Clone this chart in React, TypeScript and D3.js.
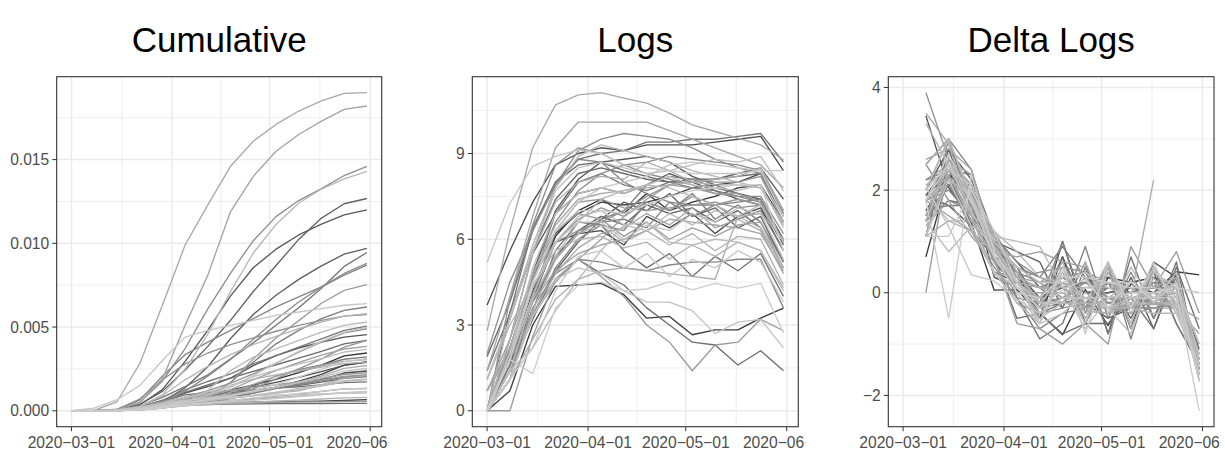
import React from "react";
import * as d3 from "d3";

// ---------------- data ----------------
const weeks = [
  "2020-03-01", "2020-03-08", "2020-03-15", "2020-03-22", "2020-03-29", "2020-04-05", "2020-04-12",
  "2020-04-19", "2020-04-26", "2020-05-03", "2020-05-10", "2020-05-17", "2020-05-24", "2020-05-31",
];

const states = [
  "Alabama", "Alaska", "Arizona", "Arkansas", "California", "Colorado", "Connecticut", "Delaware",
  "District of Columbia", "Florida", "Georgia", "Hawaii", "Idaho", "Illinois", "Indiana", "Iowa",
  "Kansas", "Kentucky", "Louisiana", "Maine", "Maryland", "Massachusetts", "Michigan", "Minnesota",
  "Mississippi", "Missouri", "Montana", "Nebraska", "Nevada", "New Hampshire", "New Jersey",
  "New Mexico", "New York", "North Carolina", "North Dakota", "Ohio", "Oklahoma", "Oregon",
  "Pennsylvania", "Rhode Island", "South Carolina", "South Dakota", "Tennessee", "Texas", "Utah",
  "Vermont", "Virginia", "Washington", "West Virginia", "Wisconsin", "Wyoming",
];

// cumulative cases per capita, one row per state, one value per week
const cumulative: number[][] = [
  [0, 0.000001, 0.000015, 0.000106, 0.00033, 0.000664, 0.000966, 0.001239, 0.001541, 0.001875, 0.002283, 0.002733, 0.003284, 0.00345],
  [0, 0.000001, 0.000029, 0.000134, 0.000245, 0.000363, 0.000442, 0.000478, 0.000515, 0.000534, 0.000558, 0.000581, 0.000616, 0.000666],
  [0, 0.000001, 0.000015, 0.000083, 0.000219, 0.000422, 0.000606, 0.00081, 0.001058, 0.001393, 0.001764, 0.002173, 0.002726, 0.002929],
  [0, 0.000001, 0.000018, 0.000138, 0.000302, 0.000482, 0.00063, 0.000899, 0.001142, 0.001411, 0.00161, 0.001854, 0.002255, 0.002376],
  [0.000001, 0.000008, 0.000045, 0.000183, 0.000388, 0.000639, 0.000865, 0.001142, 0.001419, 0.001696, 0.002002, 0.00234, 0.002714, 0.0029],
  [0, 0.000003, 0.00005, 0.00023, 0.0006, 0.00105, 0.00145, 0.00195, 0.0027, 0.0033, 0.00375, 0.0041, 0.0044, 0.00455],
  [0, 0.000002, 0.000036, 0.000343, 0.001266, 0.00295, 0.00481, 0.00686, 0.00854, 0.00965, 0.0105, 0.01115, 0.0117, 0.012],
  [0, 0.000004, 0.00003, 0.000165, 0.000541, 0.001378, 0.002628, 0.004314, 0.00575, 0.0069, 0.00785, 0.00865, 0.00935, 0.0097],
  [0, 0.000003, 0.000072, 0.000386, 0.001159, 0.002433, 0.003847, 0.005403, 0.007122, 0.008678, 0.010234, 0.011508, 0.012362, 0.012675],
  [0, 0.000002, 0.000028, 0.000166, 0.000419, 0.000698, 0.000905, 0.001074, 0.001213, 0.001366, 0.00152, 0.001707, 0.001935, 0.002049],
  [0, 0.000003, 0.000028, 0.000182, 0.00058, 0.0011, 0.00155, 0.00195, 0.00235, 0.00275, 0.00315, 0.00355, 0.004, 0.0042],
  [0, 0.000001, 0.000022, 0.000092, 0.000233, 0.000319, 0.000376, 0.000402, 0.000416, 0.000424, 0.000431, 0.000435, 0.00044, 0.000442],
  [0, 0.000001, 0.000019, 0.00017, 0.00058, 0.000952, 0.001103, 0.001185, 0.00126, 0.001352, 0.001435, 0.001546, 0.001683, 0.001728],
  [0, 0.000003, 0.00005, 0.000285, 0.000807, 0.001445, 0.00215, 0.003102, 0.004054, 0.005106, 0.006158, 0.00732, 0.00862, 0.00945],
  [0, 0.000001, 0.000016, 0.00017, 0.00063, 0.00125, 0.00175, 0.0022, 0.0028, 0.0033, 0.0038, 0.0043, 0.0048, 0.00505],
  [0, 0.000002, 0.000017, 0.000081, 0.000237, 0.000494, 0.000841, 0.001694, 0.0029, 0.004, 0.0048, 0.0055, 0.006, 0.0062],
  [0, 0.000002, 0.00001, 0.000061, 0.0002, 0.000429, 0.000682, 0.000992, 0.001454, 0.002077, 0.002456, 0.002736, 0.003078, 0.003217],
  [0, 0.000001, 0.000011, 0.000056, 0.000178, 0.000343, 0.000524, 0.000725, 0.001056, 0.001327, 0.001549, 0.001795, 0.002017, 0.002107],
  [0, 0.000003, 0.000055, 0.000635, 0.00206, 0.00335, 0.0041, 0.0048, 0.0055, 0.0062, 0.0068, 0.0074, 0.0081, 0.0087],
  [0, 0.000001, 0.000028, 0.000119, 0.000269, 0.000404, 0.000514, 0.000614, 0.000737, 0.000872, 0.001007, 0.001156, 0.001305, 0.001333],
  [0, 0.000001, 0.000018, 0.00014, 0.000504, 0.00117, 0.002067, 0.00306, 0.004272, 0.00545, 0.0065, 0.0074, 0.0082, 0.0088],
  [0.000001, 0.000014, 0.000093, 0.000484, 0.001782, 0.003718, 0.006083, 0.008223, 0.010159, 0.011593, 0.012555, 0.013267, 0.01405, 0.0146],
  [0, 0.000005, 0.00008, 0.0007, 0.00185, 0.0028, 0.00345, 0.00395, 0.00435, 0.00475, 0.0051, 0.0054, 0.00565, 0.00575],
  [0, 0.000002, 0.000021, 0.000086, 0.000182, 0.000313, 0.000507, 0.000828, 0.00131, 0.0019, 0.0025, 0.0031, 0.0038, 0.0042],
  [0, 0.000001, 0.000021, 0.000143, 0.00042, 0.00082, 0.0012, 0.00165, 0.0022, 0.00285, 0.0035, 0.0041, 0.00465, 0.0049],
  [0, 0, 0.000009, 0.000098, 0.000339, 0.000606, 0.000803, 0.000982, 0.001179, 0.001397, 0.001638, 0.001836, 0.002054, 0.002152],
  [0, 0, 0.00002, 0.000145, 0.000332, 0.000435, 0.000486, 0.000505, 0.000515, 0.000518, 0.000526, 0.000536, 0.000558, 0.000572],
  [0, 0.000003, 0.000017, 0.000064, 0.000167, 0.000376, 0.000841, 0.001689, 0.003087, 0.004351, 0.005386, 0.006421, 0.007188, 0.007533],
  [0, 0.000004, 0.000044, 0.00022, 0.000543, 0.000806, 0.001022, 0.001218, 0.001394, 0.001555, 0.001731, 0.001927, 0.002166, 0.002273],
  [0.000001, 0.000006, 0.000039, 0.000138, 0.000318, 0.00056, 0.000857, 0.001257, 0.001854, 0.002395, 0.002884, 0.003326, 0.003689, 0.003851],
  [0, 0.000005, 0.00006, 0.0005, 0.0019, 0.0051, 0.0081, 0.0119, 0.014, 0.0155, 0.0165, 0.0173, 0.018, 0.0182],
  [0, 0.000001, 0.000015, 0.000073, 0.000202, 0.000437, 0.000723, 0.00111, 0.001582, 0.002055, 0.002405, 0.002691, 0.002951, 0.003056],
  [0, 0.00003, 0.00054, 0.0028, 0.0063, 0.0099, 0.0123, 0.0146, 0.0161, 0.0171, 0.0179, 0.0185, 0.01895, 0.019],
  [0, 0.000001, 0.000013, 0.000076, 0.000232, 0.000422, 0.000632, 0.000865, 0.001122, 0.001405, 0.001719, 0.002066, 0.002534, 0.002706],
  [0, 0.000001, 0.000016, 0.00008, 0.000212, 0.000388, 0.000583, 0.000759, 0.00092, 0.001064, 0.001196, 0.00155, 0.00195, 0.0021],
  [0, 0.000001, 0.000022, 0.000148, 0.000403, 0.000714, 0.000996, 0.001509, 0.001889, 0.002144, 0.002374, 0.002605, 0.002814, 0.002907],
  [0, 0.000001, 0.000009, 0.000059, 0.000184, 0.000352, 0.000476, 0.000578, 0.000691, 0.000792, 0.000885, 0.000986, 0.001088, 0.00113],
  [0, 0.000005, 0.000024, 0.000088, 0.000184, 0.00029, 0.000376, 0.000447, 0.000511, 0.000582, 0.00064, 0.000704, 0.000768, 0.0008],
  [0, 0.000002, 0.00003, 0.00025, 0.0009, 0.00185, 0.00265, 0.00335, 0.00395, 0.00445, 0.0049, 0.0053, 0.00565, 0.0058],
  [0, 0.000004, 0.00005, 0.000258, 0.000952, 0.002495, 0.004578, 0.007123, 0.009425, 0.01113, 0.012393, 0.013241, 0.01385, 0.0143],
  [0, 0.000001, 0.000012, 0.000083, 0.000257, 0.00047, 0.000628, 0.000757, 0.0009, 0.001074, 0.001267, 0.00148, 0.00174, 0.001857],
  [0, 0.000001, 0.000011, 0.000049, 0.000163, 0.000469, 0.001225, 0.0024, 0.0032, 0.0037, 0.0042, 0.0047, 0.0051, 0.0053],
  [0, 0.000001, 0.000023, 0.000168, 0.00046, 0.000818, 0.00111, 0.001505, 0.002038, 0.002433, 0.00279, 0.003114, 0.003509, 0.003669],
  [0, 0.000001, 0.00001, 0.000086, 0.000256, 0.000463, 0.000632, 0.000771, 0.000924, 0.001112, 0.001341, 0.001548, 0.0018, 0.001903],
  [0, 0.000002, 0.000025, 0.000139, 0.000369, 0.000598, 0.000769, 0.000939, 0.001147, 0.001401, 0.001681, 0.001991, 0.00237, 0.002524],
  [0, 0.000002, 0.000044, 0.000205, 0.000444, 0.00064, 0.000748, 0.000821, 0.000894, 0.000947, 0.000971, 0.001006, 0.001047, 0.001061],
  [0, 0.000001, 0.000011, 0.00008, 0.00026, 0.00056, 0.00093, 0.0014, 0.0021, 0.00285, 0.00355, 0.00415, 0.0047, 0.005],
  [0, 0.00016, 0.00066, 0.0015, 0.003, 0.0044, 0.0048, 0.0051, 0.0054, 0.0057, 0.0059, 0.0061, 0.0063, 0.0064],
  [0, 0.000001, 0.000006, 0.000043, 0.000166, 0.000317, 0.000429, 0.00053, 0.000622, 0.000723, 0.000846, 0.000958, 0.001082, 0.001137],
  [0, 0.000001, 0.000017, 0.000111, 0.0003, 0.000489, 0.00066, 0.000891, 0.001202, 0.001583, 0.002004, 0.002469, 0.002934, 0.003123],
  [0, 0.000001, 0.000005, 0.00007, 0.00021, 0.00037, 0.00049, 0.00061, 0.00077, 0.00089, 0.00104, 0.00116, 0.00131, 0.00134],
];

// log of weekly new cases
const logs: number[][] = [
  [0, 1.9, 4.2, 6.1, 7.0, 7.4, 6.9, 7.6, 7.0, 7.3, 7.5, 7.8, 7.9, 6.6],
  [0, 0.7, 3.0, 4.35, 4.4, 4.46, 4.06, 3.24, 3.3, 2.66, 2.83, 2.83, 3.24, 3.59],
  [0.7, 2.2, 4.6, 6.2, 6.9, 7.3, 7.2, 7.3, 7.5, 7.8, 7.9, 8.0, 8.3, 6.8],
  [0, 1.6, 3.9, 5.9, 6.2, 6.3, 5.8, 6.8, 6.4, 6.9, 6.2, 6.8, 7.1, 5.6],
  [3.7, 5.6, 7.3, 8.6, 9.0, 9.2, 9.1, 9.3, 9.3, 9.3, 9.4, 9.5, 9.6, 8.4],
  [0, 3.45, 5.5, 6.9, 7.6, 7.8, 7.6, 7.9, 8.3, 8.0, 7.7, 7.4, 7.2, 5.8],
  [0, 2.0, 4.8, 7.0, 8.1, 8.7, 8.8, 8.9, 8.7, 8.2, 7.9, 7.6, 7.4, 6.0],
  [0, 1.4, 3.2, 4.9, 5.9, 6.7, 7.3, 7.0, 7.6, 6.8, 7.1, 6.4, 6.8, 5.2],
  [0, 1.1, 3.9, 5.4, 6.3, 6.8, 6.5, 7.2, 6.9, 7.1, 6.6, 7.0, 6.4, 5.0],
  [1.9, 3.8, 6.3, 8.0, 8.6, 8.7, 8.4, 8.2, 8.0, 8.1, 8.1, 8.3, 8.5, 7.4],
  [1.1, 3.2, 5.6, 7.4, 8.3, 8.5, 8.3, 8.1, 8.0, 8.0, 8.1, 8.2, 8.3, 6.9],
  [0, 1.1, 3.4, 4.6, 5.3, 4.8, 4.4, 3.6, 3.0, 2.4, 2.3, 1.6, 2.1, 1.4],
  [0, 1.4, 3.5, 5.6, 6.6, 6.5, 5.6, 5.0, 5.5, 4.7, 5.4, 4.9, 5.5, 4.0],
  [1.4, 3.4, 6.4, 8.0, 8.8, 9.0, 9.1, 9.4, 9.4, 9.5, 9.5, 9.6, 9.7, 8.7],
  [0, 2.2, 4.6, 6.9, 8.0, 8.3, 7.9, 7.7, 8.0, 7.8, 7.7, 7.5, 7.3, 5.9],
  [0, 1.8, 3.9, 5.3, 6.2, 6.7, 7.0, 7.9, 8.2, 8.1, 7.8, 7.6, 7.3, 5.9],
  [0, 1.6, 3.3, 5.0, 6.0, 6.5, 6.3, 7.3, 7.0, 7.6, 6.7, 7.2, 6.6, 5.2],
  [0, 1.8, 3.8, 5.3, 6.3, 6.6, 6.7, 6.4, 7.3, 6.8, 7.2, 6.7, 7.0, 5.6],
  [0, 2.5, 5.5, 7.9, 8.8, 8.7, 8.0, 7.6, 7.3, 7.2, 7.2, 7.3, 7.4, 5.9],
  [0, 1.4, 3.6, 4.8, 5.3, 5.2, 5.0, 4.9, 5.1, 5.2, 5.2, 5.3, 5.3, 3.6],
  [0, 2.2, 4.6, 6.6, 7.7, 8.3, 8.6, 8.7, 8.9, 8.8, 8.7, 8.6, 8.4, 7.0],
  [2.0, 4.5, 6.3, 7.9, 9.1, 9.5, 9.7, 9.6, 9.5, 9.2, 8.8, 8.5, 8.3, 6.9],
  [0, 3.9, 6.5, 8.6, 9.2, 9.0, 8.6, 8.3, 8.1, 7.9, 7.6, 7.5, 7.5, 6.2],
  [0, 2.2, 4.7, 5.9, 6.3, 6.6, 7.0, 7.5, 7.9, 8.1, 8.0, 8.0, 8.2, 6.6],
  [0, 1.1, 4.1, 5.9, 6.7, 7.1, 6.8, 7.3, 7.0, 7.5, 7.2, 7.4, 7.2, 5.9],
  [0, 1.4, 4.0, 6.3, 7.3, 7.4, 7.1, 7.0, 7.1, 7.2, 7.3, 7.1, 7.2, 5.9],
  [0, 0, 2.6, 4.6, 5.3, 4.7, 4.0, 3.0, 2.4, 1.4, 2.3, 2.4, 3.2, 2.8],
  [0, 1.8, 3.3, 4.5, 5.3, 6.0, 6.8, 7.4, 7.9, 7.8, 7.6, 7.6, 7.3, 5.9],
  [0.7, 2.5, 4.8, 6.3, 6.9, 6.7, 6.1, 6.6, 6.0, 6.4, 6.1, 6.5, 6.6, 5.0],
  [0.7, 2.0, 3.8, 4.9, 5.5, 5.8, 6.0, 6.3, 6.7, 6.6, 6.5, 6.4, 6.2, 4.9],
  [1.4, 4.0, 6.8, 9.2, 10.1, 10.1, 10.1, 10.1, 9.8, 9.5, 9.2, 8.9, 8.6, 7.8],
  [0, 1.1, 3.4, 4.8, 5.7, 6.2, 6.4, 6.9, 6.5, 7.1, 6.4, 6.7, 6.3, 4.8],
  [2.8, 6.3, 9.2, 10.7, 11.05, 11.13, 10.94, 10.76, 10.41, 10.0, 9.77, 9.54, 9.3, 8.78],
  [0.7, 2.2, 4.8, 6.5, 7.4, 7.6, 7.7, 7.8, 7.9, 8.0, 8.1, 8.2, 8.5, 7.0],
  [0, 1.1, 2.5, 3.9, 4.6, 4.9, 5.0, 4.9, 4.8, 4.7, 4.6, 6.8, 6.9, 6.0],
  [0, 2.5, 5.5, 7.3, 8.0, 8.2, 8.1, 8.7, 8.4, 8.0, 7.9, 7.9, 7.8, 6.5],
  [0, 1.1, 3.5, 5.3, 6.2, 6.5, 5.9, 6.3, 5.8, 6.2, 5.6, 6.1, 6.0, 4.4],
  [1.1, 3.0, 4.4, 5.6, 6.0, 6.1, 5.7, 5.9, 5.3, 5.8, 5.4, 5.9, 5.6, 4.2],
  [0, 3.3, 5.8, 7.8, 8.9, 9.3, 9.1, 8.9, 8.7, 8.4, 8.2, 8.0, 7.8, 6.6],
  [0, 1.4, 3.9, 5.4, 6.6, 7.4, 7.7, 7.9, 7.8, 7.5, 7.2, 6.8, 6.4, 5.0],
  [0, 1.8, 4.0, 5.9, 6.8, 7.0, 6.5, 6.3, 6.9, 6.5, 7.0, 6.8, 7.2, 5.9],
  [0, 1.4, 2.2, 3.5, 4.6, 5.6, 6.5, 6.6, 5.9, 5.8, 6.0, 5.9, 5.6, 4.3],
  [0, 2.0, 5.0, 6.9, 7.6, 7.8, 7.6, 7.9, 8.2, 7.9, 7.8, 7.7, 7.9, 6.4],
  [1.1, 3.2, 5.6, 7.7, 8.5, 8.7, 8.5, 8.3, 8.4, 8.6, 8.8, 8.7, 8.9, 7.7],
  [0, 1.8, 4.3, 5.9, 6.6, 6.6, 6.0, 6.5, 6.3, 6.9, 6.6, 7.1, 6.9, 5.3],
  [0, 1.1, 3.3, 4.6, 5.0, 4.8, 4.2, 3.8, 3.8, 3.5, 2.7, 3.1, 3.2, 2.2],
  [0, 2.0, 4.5, 6.3, 7.3, 7.8, 8.0, 8.2, 8.6, 8.7, 8.6, 8.5, 8.4, 6.8],
  [5.2, 7.26, 8.55, 8.9, 9.13, 9.0, 8.6, 8.5, 8.4, 8.3, 8.3, 8.3, 8.4, 8.4],
  [0, 1.1, 2.2, 4.2, 5.4, 5.6, 5.0, 5.5, 4.7, 5.3, 5.0, 5.6, 5.2, 3.8],
  [0, 1.8, 4.5, 6.3, 7.0, 7.0, 6.9, 7.2, 7.5, 7.7, 7.8, 7.9, 7.9, 5.6],
  [0, 1.8, 1.3, 3.6, 4.4, 4.5, 4.2, 4.26, 4.52, 4.23, 4.46, 4.29, 4.46, 2.72],
];

// week-on-week change of the logs, from the second week on (null = missing)
const deltaLogs: (number | null)[][] = [
  [1.9, 2.3, 1.9, 0.9, 0.4, -0.5, 0.7, -0.6, 0.3, 0.2, 0.3, 0.1, -1.3],
  [0.7, 2.3, 1.35, 0.05, 0.06, -0.4, -0.82, 0.06, -0.64, 0.17, 0, 0.41, 0.35],
  [1.5, 2.4, 1.6, 0.7, 0.4, -0.1, 0.1, 0.2, 0.3, 0.1, 0.1, 0.3, -1.5],
  [1.6, 2.3, 2.0, 0.3, 0.1, -0.5, 1.0, -0.4, 0.5, -0.7, 0.6, 0.3, -1.5],
  [1.9, 1.7, 1.3, 0.4, 0.2, -0.1, 0.2, 0, 0, 0.1, 0.1, 0.1, -1.2],
  [3.45, 2.05, 1.4, 0.7, 0.2, -0.2, 0.3, 0.4, -0.3, -0.3, -0.3, -0.2, -1.4],
  [2.0, 2.8, 2.2, 1.1, 0.6, 0.1, 0.1, -0.2, -0.5, -0.3, -0.3, -0.2, -1.4],
  [1.4, 1.8, 1.7, 1.0, 0.8, 0.6, -0.3, 0.6, -0.8, 0.3, -0.7, 0.4, -1.6],
  [1.1, 2.8, 1.5, 0.9, 0.5, -0.3, 0.7, -0.3, 0.2, -0.5, 0.4, -0.6, -1.4],
  [1.9, 2.5, 1.7, 0.6, 0.1, -0.3, -0.2, -0.2, 0.1, 0, 0.2, 0.2, -1.1],
  [2.1, 2.4, 1.8, 0.9, 0.2, -0.2, -0.2, -0.1, 0, 0.1, 0.1, 0.1, -1.4],
  [1.1, 2.3, 1.2, 0.7, -0.5, -0.4, -0.8, -0.6, -0.6, -0.1, -0.7, 0.5, -0.7],
  [1.4, 2.1, 2.1, 1.0, -0.1, -0.9, -0.6, 0.5, -0.8, 0.7, -0.5, 0.6, -1.5],
  [2.0, 3.0, 1.6, 0.8, 0.2, 0.1, 0.3, 0, 0.1, 0, 0.1, 0.1, -1.0],
  [2.2, 2.4, 2.3, 1.1, 0.3, -0.4, -0.2, 0.3, -0.2, -0.1, -0.2, -0.2, -1.4],
  [1.8, 2.1, 1.4, 0.9, 0.5, 0.3, 0.9, 0.3, -0.1, -0.3, -0.2, -0.3, -1.4],
  [1.6, 1.7, 1.7, 1.0, 0.5, -0.2, 1.0, -0.3, 0.6, -0.9, 0.5, -0.6, -1.4],
  [1.8, 2.0, 1.5, 1.0, 0.3, 0.1, -0.3, 0.9, -0.5, 0.4, -0.5, 0.3, -1.4],
  [2.5, 3.0, 2.4, 0.9, -0.1, -0.7, -0.4, -0.3, -0.1, 0, 0.1, 0.1, -1.5],
  [1.4, 2.2, 1.2, 0.5, -0.1, -0.2, -0.1, 0.2, 0.1, 0, 0.1, 0, -1.7],
  [2.2, 2.4, 2.0, 1.1, 0.6, 0.3, 0.1, 0.2, -0.1, -0.1, -0.1, -0.2, -1.4],
  [2.5, 1.8, 1.6, 1.2, 0.4, 0.2, -0.1, -0.1, -0.3, -0.4, -0.3, -0.2, -1.4],
  [3.9, 2.6, 2.1, 0.6, -0.2, -0.4, -0.3, -0.2, -0.2, -0.3, -0.1, 0, -1.3],
  [2.2, 2.5, 1.2, 0.4, 0.3, 0.4, 0.5, 0.4, 0.2, -0.1, 0, 0.2, -1.6],
  [1.1, 3.0, 1.8, 0.8, 0.4, -0.3, 0.5, -0.3, 0.5, -0.3, 0.2, -0.2, -1.3],
  [1.4, 2.6, 2.3, 1.0, 0.1, -0.3, -0.1, 0.1, 0.1, 0.1, -0.2, 0.1, -1.3],
  [0, 2.6, 2.0, 0.7, -0.6, -0.7, -1.0, -0.6, -1.0, 0.9, 0.1, 0.8, -0.4],
  [1.8, 1.5, 1.2, 0.8, 0.7, 0.8, 0.6, 0.5, -0.1, -0.2, 0, -0.3, -1.4],
  [1.8, 2.3, 1.5, 0.6, -0.2, -0.6, 0.5, -0.6, 0.4, -0.3, 0.4, 0.1, -1.6],
  [1.3, 1.8, 1.1, 0.6, 0.3, 0.2, 0.3, 0.4, -0.1, -0.1, -0.1, -0.2, -1.3],
  [2.6, 2.8, 2.4, 0.9, 0, 0, 0, -0.3, -0.3, -0.3, -0.3, -0.3, -0.8],
  [1.1, 2.3, 1.4, 0.9, 0.5, 0.2, 0.5, -0.4, 0.6, -0.7, 0.3, -0.4, -1.5],
  [3.5, 2.9, 1.5, 0.35, 0.08, -0.19, -0.18, -0.35, -0.41, -0.23, -0.23, -0.24, -0.52],
  [1.5, 2.6, 1.7, 0.9, 0.2, 0.1, 0.1, 0.1, 0.1, 0.1, 0.1, 0.3, -1.5],
  [1.1, 1.4, 1.4, 0.7, 0.3, 0.1, -0.1, -0.1, -0.1, -0.1, 2.2, null, null],
  [2.5, 3.0, 1.8, 0.7, 0.2, -0.1, 0.6, -0.3, -0.4, -0.1, 0, -0.1, -1.3],
  [1.1, 2.4, 1.8, 0.9, 0.3, -0.6, 0.4, -0.5, 0.4, -0.6, 0.5, -0.1, -1.6],
  [1.9, 1.4, 1.2, 0.4, 0.1, -0.4, 0.2, -0.6, 0.5, -0.4, 0.5, -0.3, -1.4],
  [3.3, 2.5, 2.0, 1.1, 0.4, -0.2, -0.2, -0.2, -0.3, -0.2, -0.2, -0.2, -1.2],
  [1.4, 2.5, 1.5, 1.2, 0.8, 0.3, 0.2, -0.1, -0.3, -0.3, -0.4, -0.4, -1.4],
  [1.8, 2.2, 1.9, 0.9, 0.2, -0.5, -0.2, 0.6, -0.4, 0.5, -0.2, 0.4, -1.3],
  [1.4, 0.8, 1.3, 1.1, 1.0, 0.9, 0.1, -0.7, -0.1, 0.2, -0.1, -0.3, -1.3],
  [2.0, 3.0, 1.9, 0.7, 0.2, -0.2, 0.3, 0.3, -0.3, -0.1, -0.1, 0.2, -1.5],
  [2.1, 2.4, 2.1, 0.8, 0.2, -0.2, -0.2, 0.1, 0.2, 0.2, -0.1, 0.2, -1.2],
  [1.8, 2.5, 1.6, 0.7, 0, -0.6, 0.5, -0.2, 0.6, -0.3, 0.5, -0.2, -1.6],
  [1.1, 2.2, 1.3, 0.4, -0.2, -0.6, -0.4, 0, -0.3, -0.8, 0.4, 0.1, -1.0],
  [2.0, 2.5, 1.8, 1.0, 0.5, 0.2, 0.2, 0.4, 0.1, -0.1, -0.1, -0.1, -1.6],
  [2.06, 1.29, 0.35, 0.23, -0.13, -0.4, -0.1, -0.1, -0.1, 0, 0, 0.1, 0],
  [1.1, 1.1, 2.0, 1.2, 0.2, -0.6, 0.5, -0.8, 0.6, -0.3, 0.6, -0.4, -1.4],
  [1.8, 2.7, 1.8, 0.7, 0, -0.1, 0.3, 0.3, 0.2, 0.1, 0.1, 0, -2.3],
  [1.8, -0.5, 2.3, 0.8, 0.1, -0.3, 0.06, 0.26, -0.29, 0.23, -0.17, 0.17, -1.74],
];

const titles = ["Cumulative", "Logs", "Delta Logs"];
const xTickDates = ["2020-03-01", "2020-04-01", "2020-05-01", "2020-06-01"];
const xTickLabels = ["2020\u221203\u221201", "2020\u221204\u221201", "2020\u221205\u221201", "2020\u221206\u221201"];
const cumTicks = [0, 0.005, 0.01, 0.015];
const cumTickLabels = ["0.000", "0.005", "0.010", "0.015"];
const logTicks = [0, 3, 6, 9];
const logTickLabels = ["0", "3", "6", "9"];
const deltaTicks = [-2, 0, 2, 4];
const deltaTickLabels = ["\u22122", "0", "2", "4"];

// ---------------- layout / style ----------------
const W = 1225;
const H = 452;
const TOP = 76.7;
const BOTTOM = 426.7;
const FONT = "'Liberation Sans', Arial, Helvetica, sans-serif";

const greys = states.map((_, i) => {
  const a = Math.pow(0.2, 2.2);
  const b = Math.pow(0.8, 2.2);
  const g = Math.pow(a + (i / (states.length - 1)) * (b - a), 1 / 2.2);
  const c = Math.round(g * 255);
  return d3.rgb(c, c, c).formatHex();
});

const parse = (s: string) => new Date(s + "T00:00:00Z");
const weekDates = weeks.map(parse);
const t0 = +weekDates[0];
const t1 = +weekDates[weekDates.length - 1];
const span = t1 - t0;
const xDomain = [new Date(t0 - 0.05 * span), new Date(t1 + 0.05 * span)];

type PanelCfg = {
  title: string;
  left: number;
  right: number;
  rows: (number | null)[][];
  dates: Date[];
  ticks: number[];
  tickLabels: string[];
};

const panelCfgs: PanelCfg[] = [
  { title: titles[0], left: 56.7, right: 381.7, rows: cumulative, dates: weekDates, ticks: cumTicks, tickLabels: cumTickLabels },
  { title: titles[1], left: 472.3, right: 798.3, rows: logs, dates: weekDates, ticks: logTicks, tickLabels: logTickLabels },
  { title: titles[2], left: 888.3, right: 1214, rows: deltaLogs, dates: weekDates.slice(1), ticks: deltaTicks, tickLabels: deltaTickLabels },
];

function Panel({ cfg, idx }: { cfg: PanelCfg; idx: number }) {
  const x = d3.scaleUtc().domain(xDomain).range([cfg.left, cfg.right]);
  const vals = cfg.rows.flat().filter((v) => v != null) as number[];
  const [lo, hi] = d3.extent(vals) as [number, number];
  const pad = (hi - lo) * 0.05;
  const y = d3.scaleLinear().domain([lo - pad, hi + pad]).range([BOTTOM, TOP]);

  const xMajor = xTickDates.map(parse);
  const xMinor: Date[] = [];
  for (let i = 0; i < xMajor.length - 1; i++) xMinor.push(new Date((+xMajor[i] + +xMajor[i + 1]) / 2));

  const step = cfg.ticks[1] - cfg.ticks[0];
  const yMinor: number[] = [];
  for (let v = cfg.ticks[0] - step / 2; v <= cfg.ticks[cfg.ticks.length - 1] + step / 2 + 1e-9; v += step) {
    if (v > y.domain()[0] && v < y.domain()[1]) yMinor.push(v);
  }

  const line = d3
    .line<number | null>()
    .defined((d) => d != null)
    .x((_, i) => x(cfg.dates[i]))
    .y((d) => y(d as number));

  const cx = (cfg.left + cfg.right) / 2;
  const clipId = `clip-x-${idx}`;

  return (
    <g>
      <defs>
        <clipPath id={clipId}>
          <rect x={cfg.left - 80} y={BOTTOM} width={cfg.right - cfg.left + 80 + 7} height={H - BOTTOM} />
        </clipPath>
      </defs>
      <text x={cx} y={51.5} textAnchor="middle" fontSize={35} fontFamily={FONT} fill="#000">
        {cfg.title}
      </text>
      <rect x={cfg.left} y={TOP} width={cfg.right - cfg.left} height={BOTTOM - TOP} fill="#fff" />
      {xMinor.map((d, i) => (
        <line key={"xm" + i} x1={x(d)} x2={x(d)} y1={TOP} y2={BOTTOM} stroke="#EBEBEB" strokeWidth={0.8} />
      ))}
      {yMinor.map((v, i) => (
        <line key={"ym" + i} x1={cfg.left} x2={cfg.right} y1={y(v)} y2={y(v)} stroke="#EBEBEB" strokeWidth={0.8} />
      ))}
      {xMajor.map((d, i) => (
        <line key={"xM" + i} x1={x(d)} x2={x(d)} y1={TOP} y2={BOTTOM} stroke="#EBEBEB" strokeWidth={1.5} />
      ))}
      {cfg.ticks.map((v, i) => (
        <line key={"yM" + i} x1={cfg.left} x2={cfg.right} y1={y(v)} y2={y(v)} stroke="#EBEBEB" strokeWidth={1.5} />
      ))}
      {cfg.rows.map((row, i) => (
        <path
          key={states[i]}
          d={line(row) || ""}
          fill="none"
          stroke={greys[i]}
          strokeWidth={1.35}
          strokeLinejoin="round"
          strokeLinecap="butt"
        />
      ))}
      <rect x={cfg.left} y={TOP} width={cfg.right - cfg.left} height={BOTTOM - TOP} fill="none" stroke="#333333" strokeWidth={1.1} />
      {cfg.ticks.map((v, i) => (
        <g key={"yt" + i}>
          <line x1={cfg.left - 4.5} x2={cfg.left} y1={y(v)} y2={y(v)} stroke="#333333" strokeWidth={1} />
          <text x={cfg.left - 7.5} y={y(v) + 5.6} textAnchor="end" fontSize={15.6} fontFamily={FONT} fill="#4D4D4D">
            {cfg.tickLabels[i]}
          </text>
        </g>
      ))}
      <g clipPath={`url(#${clipId})`}>
        {xMajor.map((d, i) => (
          <g key={"xt" + i}>
            <line x1={x(d)} x2={x(d)} y1={BOTTOM} y2={BOTTOM + 4.5} stroke="#333333" strokeWidth={1} />
            <text x={x(d)} y={448} textAnchor="middle" fontSize={15.6} fontFamily={FONT} fill="#4D4D4D">
              {xTickLabels[i]}
            </text>
          </g>
        ))}
      </g>
    </g>
  );
}

export default function App() {
  return (
    <svg
      width={W}
      height={H}
      viewBox={`0 0 ${W} ${H}`}
      style={{ position: "absolute", left: 0, top: 0, background: "#fff" }}
    >
      <rect x={0} y={0} width={W} height={H} fill="#fff" />
      {panelCfgs.map((cfg, i) => (
        <Panel key={cfg.title} cfg={cfg} idx={i} />
      ))}
    </svg>
  );
}
